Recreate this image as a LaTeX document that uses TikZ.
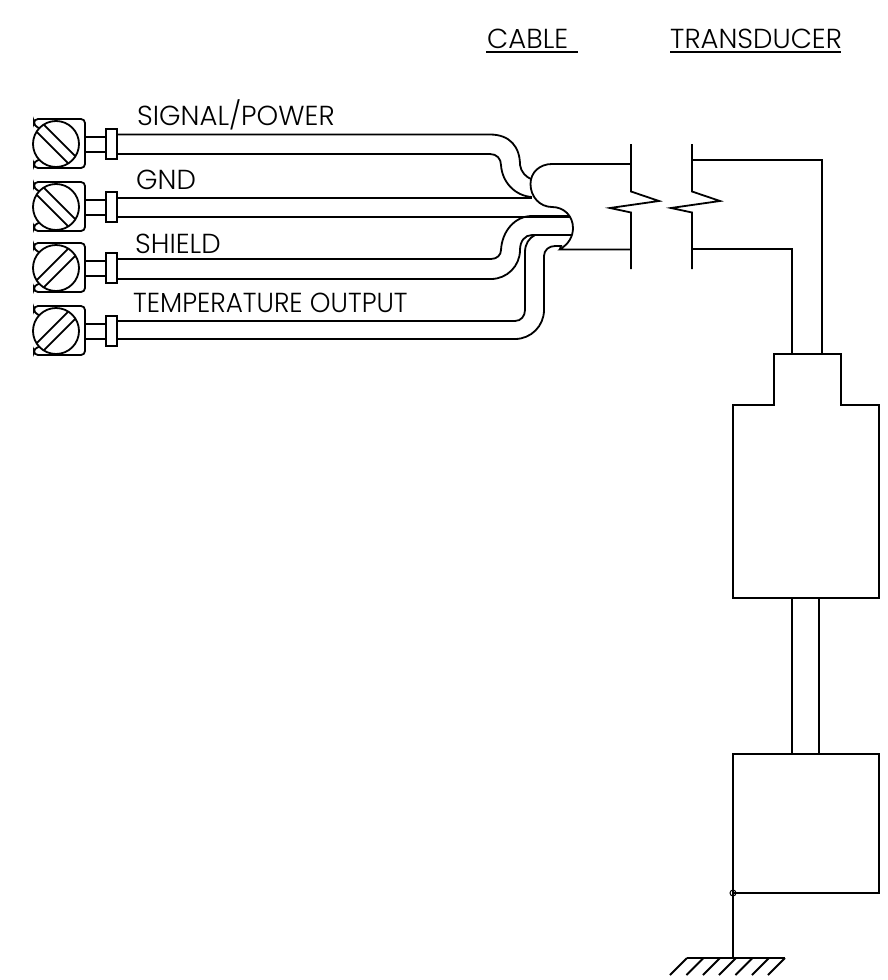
\documentclass[tikz,border=0pt]{standalone}
\usepackage{fontspec}
\setmainfont{Poppins}[UprightFont=* Light]
\usetikzlibrary{%
  arrows.meta,%
  positioning%
}
\tikzset{
  wire/.style={line width=1.8pt,line join=miter},
  lbl/.style={inner sep=0pt,anchor=base west,font=\fontsize{27.5}{30}\selectfont},
}
\begin{document}
\begin{tikzpicture}[x=1pt,y=-1pt]
      \useasboundingbox (0,0) rectangle (887,980);
      % terminals
      \foreach \yy/\ang in {144/-45,207/-45,268/45,331/45} {
        \begin{scope}[shift={(0,\yy)},wire]
          \draw (56,0) circle (23);
          \draw [rounded corners=4] (39,-16) -- (34,-18) -- (34,-25) -- (85,-25) -- (85,24) -- (34,24) -- (34,17) -- (39,16);
          \begin{scope}[shift={(56,0)},rotate=\ang]
            \draw (-22,-5) -- (22,-5);
            \draw (-22,5) -- (22,5);
          \end{scope}
          \draw (85,-7) -- (106,-7);
          \draw (85,8) -- (106,8);
          \draw (106,-15) rectangle (117,15);
        \end{scope}
      }
      % wires
      \draw [wire] (117,134.5) -- (490,134.5) .. controls (510,134.5) and (520,147) .. (520,165) .. controls (521,172) and (526,177) .. (531,179);
      \draw [wire] (117,154) -- (490,154) .. controls (497,154) and (501,159) .. (501,165) .. controls (502,182) and (515,196) .. (532,197);
      \draw [wire] (117,198) -- (532,198);
      \draw [wire] (117,217) -- (570,217);
      \draw [wire] (117,259) -- (491,259) .. controls (497,259) and (501,255) .. (501,250) .. controls (502,231) and (515,216) .. (532,216) -- (569,216);
      \draw [wire] (117,279) -- (491,279) .. controls (507,279) and (520,266) .. (520,250) .. controls (520,241) and (525,235) .. (532,235) -- (571,235);
      \draw [wire] (117,321) -- (515,321) .. controls (521,321) and (525,316) .. (525,310) -- (525,252) .. controls (525,244) and (529,238) .. (535,235);
      \draw [wire] (117,339) -- (515,339) .. controls (531,339) and (544,326) .. (544,310) -- (544,256) .. controls (544,250) and (549,246) .. (555,246) -- (561,246) -- (560,249);
      % cable jacket
      \draw [wire] (631,164) -- (552,164) .. controls (540,164) and (530.5,172) .. (530.5,184) .. controls (530.5,197) and (540,207) .. (552,207) .. controls (564,207) and (573,216) .. (573,228) .. controls (573,237) and (568,244) .. (562,248) -- (560,249.5) -- (631,249.5);
      % break
      \foreach \xx in {631,692} {
        \draw [wire] (\xx,144) -- (\xx,191.5) -- (\xx+28,201) -- (\xx-21,208) -- (\xx,212.5) -- (\xx,269);
      }
      % transducer
      \draw [wire] (692,160) -- (822.3,160) -- (822.3,354);
      \draw [wire] (692,249) -- (792,249) -- (792,354);
      \draw [wire] (733,598) -- (733,405) -- (774,405) -- (774,354) -- (841,354) -- (841,405) -- (879,405) -- (879,598) -- cycle;
      \draw [wire] (792,598) -- (792,754);
      \draw [wire] (819,598) -- (819,754);
      \draw [wire] (733,754) rectangle (879,893);
      % ground
      \draw [wire] (733,893) -- (733,958);
      \draw [line width=1pt] (733,893) circle (3);
      \draw [wire] (687,958) -- (785,958);
      \foreach \xx in {687,703.5,720,736,752.5,769,785} {
        \draw [wire] (\xx,958) -- (\xx-17,975);
      }
      % labels
      \node [lbl] (lblsignal) at (137,125.5) {SIGNAL/POWER};
      \node [lbl] (lblgnd) at (136,189) {GND};
      \node [lbl] (lblshield) at (135,253) {SHIELD};
      \node [lbl,xscale=0.957] (lbltemp) at (133,312) {TEMPERATURE OUTPUT};
      \node [lbl] (lblcable) at (487,48) {CABLE};
      \node [lbl] (lbltrans) at (670,48) {TRANSDUCER};
      \draw [line width=1.6pt] (486,52) -- (578,52);
      \draw [line width=1.6pt] (670,52) -- (841,52);
    \end{tikzpicture}
\end{document}
